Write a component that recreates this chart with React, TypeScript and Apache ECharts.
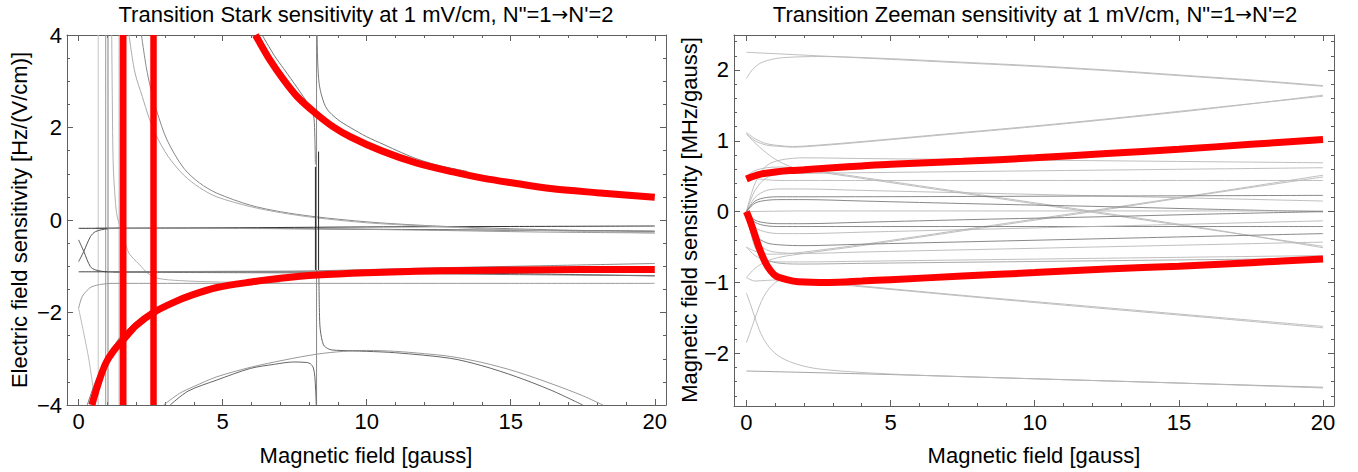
import React, { useEffect, useRef } from "react";
import * as echarts from "echarts";

// ---------- Stark panel (left) ----------
const starkMajorX = [0, 5, 10, 15, 20];
const starkMinorX = [1, 2, 3, 4, 6, 7, 8, 9, 11, 12, 13, 14, 16, 17, 18, 19];
const starkMajorY = [-4, -2, 0, 2, 4];
const starkMinorY = [-3.5, -3, -2.5, -1.5, -1, -0.5, 0.5, 1, 1.5, 2.5, 3, 3.5];

// highlighted transitions
const starkRedUpper = [[6.14, 4], [6.6, 3.5], [7.12, 3.03], [7.6, 2.66], [8.22, 2.31], [8.8, 2.03], [9.43, 1.8], [10.5, 1.5], [11.75, 1.23], [13, 1.04], [14.07, 0.9], [15.2, 0.79], [16.38, 0.68], [18, 0.59], [20, 0.49]];
const starkRedLower = [[0.46, -4], [0.7, -3.5], [0.94, -3.1], [1.2, -2.84], [1.55, -2.59], [2, -2.28], [2.6, -2.0], [3.3, -1.78], [3.95, -1.62], [4.8, -1.46], [6, -1.34], [7, -1.26], [8.28, -1.19], [10, -1.14], [11.75, -1.11], [13.5, -1.09], [15.2, -1.08], [17.5, -1.07], [20, -1.07]];
const starkRedPoleA = [[1.55, -4], [1.55, 4]];
const starkRedPoleB = [[2.6, -4], [2.6, 4]];

// remaining transitions
const starkPoleA = [[0.68, -4], [0.68, 4]];
const starkPoleB = [[0.94, -4], [0.94, 4]];
const starkPoleC = [[1.02, -4], [1.02, 4]];
const starkPoleD = [[1.41, -4], [1.41, 4]];
const starkPoleE = [[8.26, -4], [8.26, 4]];
const starkBlackA = [[8.22, 1.15], [8.22, -1.08]];
const starkBlackB = [[8.33, 1.48], [8.33, -1.08]];
const starkFall = [[1.15, 4], [1.17, 2.6], [1.2, 1.23], [1.27, 0.45], [1.34, 0.07], [1.46, -0.18], [1.6, -0.45], [1.75, -0.72], [2.09, -0.95], [2.4, -1.15], [2.74, -1.26], [3.5, -1.31], [4.8, -1.34], [7, -1.36]];
const starkHookUp = [[0, -1.91], [0.12, -1.66], [0.3, -1.52], [0.47, -1.44], [0.8, -1.39], [1.16, -1.37], [5, -1.37], [10, -1.37], [15, -1.37], [20, -1.37]];
const starkHookDown = [[0, -1.91], [0.18, -2.45], [0.36, -3.03], [0.53, -3.75], [0.59, -4]];
const starkRedShadow = [[0.3, -4], [0.55, -3.55], [0.82, -3.17], [1.1, -2.85], [1.46, -2.52], [2, -2.2], [2.6, -1.97], [3.2, -1.78]];
const starkCrossA = [[0, -0.43], [0.18, -0.68], [0.41, -1.01], [0.59, -1.08], [1, -1.12], [1.5, -1.12]];
const starkCrossB = [[0, -0.9], [0.18, -0.68], [0.41, -0.36], [0.59, -0.25], [1, -0.19], [1.5, -0.18]];
const starkLevelA = [[0, -0.18], [5, -0.17], [10, -0.15], [15, -0.14], [20, -0.13]];
const starkLevelB = [[0.6, -0.18], [5, -0.18], [10, -0.2], [15, -0.22], [20, -0.24]];
const starkLevelC = [[1, -0.18], [8, -0.19], [12, -0.22], [16, -0.26], [20, -0.28]];
const starkLevelD = [[0, -1.12], [5, -1.12], [10, -1.13], [15, -1.16], [20, -1.21]];
const starkLevelE = [[1, -1.12], [5, -1.11], [8, -1.1], [12, -1.04], [16, -0.99], [20, -0.94]];
const starkLevelF = [[1.2, -1.13], [6, -1.14], [10, -1.15], [15, -1.18], [20, -1.2]];
const starkHyperDark = [[2.18, 4], [2.35, 3.3], [2.5, 2.85], [2.7, 2.38], [3.07, 1.73], [3.65, 1.12], [4.2, 0.8], [4.8, 0.58], [5.96, 0.32], [7, 0.18], [8.22, 0.07], [10, -0.04], [11.75, -0.11], [14, -0.17], [17, -0.22], [20, -0.25]];
const starkHyperLight = [[1.75, 4], [1.95, 3.2], [2.21, 2.67], [2.45, 2.2], [2.7, 1.82], [3.1, 1.38], [3.65, 0.97], [4.2, 0.7], [4.8, 0.5], [5.96, 0.29], [7, 0.16], [8.22, 0.05], [10, -0.06], [12, -0.13], [15, -0.21], [20, -0.28]];
const starkUpperLeft = [[6.37, 4], [6.8, 3.55], [7.12, 3.27], [7.6, 2.85], [7.98, 2.5], [8.1, 2.36], [8.17, 2.2], [8.2, 1.8], [8.22, 1.2]];
const starkUpperRight = [[8.28, 4], [8.3, 3.4], [8.35, 2.95], [8.45, 2.66], [8.62, 2.4], [9, 2.17], [9.43, 2.0], [10, 1.8], [10.6, 1.63], [11.2, 1.46], [11.75, 1.32], [12.5, 1.18], [13.5, 1.05]];
const starkArchOuter = [[2.95, -4], [3.5, -3.75], [4, -3.6], [4.8, -3.39], [6, -3.18], [7.12, -3.03], [8.28, -2.9], [9.2, -2.84], [10, -2.82], [11, -2.84], [12, -2.89], [12.9, -2.95], [14, -3.08], [15.2, -3.28], [16.5, -3.56], [17.5, -3.8], [18.2, -4]];
const starkArchLeft = [[3.18, -4], [3.8, -3.7], [4.8, -3.46], [5.96, -3.21], [6.8, -3.12], [7.47, -3.07], [7.9, -3.08], [8.05, -3.11], [8.15, -3.2], [8.2, -3.39], [8.23, -3.7], [8.25, -4]];
const starkArchRight = [[8.34, -1.15], [8.36, -2.0], [8.39, -2.38], [8.5, -2.7], [8.65, -2.78], [8.79, -2.81], [9.5, -2.83], [10, -2.84], [11, -2.87], [12.9, -2.99], [14, -3.15], [15.2, -3.39], [16.4, -3.68], [17.5, -4]];

// ---------- Zeeman panel (right) ----------
const zeemanMajorX = [0, 5, 10, 15, 20];
const zeemanMinorX = [1, 2, 3, 4, 6, 7, 8, 9, 11, 12, 13, 14, 16, 17, 18, 19];
const zeemanMajorY = [-2, -1, 0, 1, 2];
const zeemanMinorY = [-2.6, -2.4, -2.2, -1.8, -1.6, -1.4, -1.2, -0.8, -0.6, -0.4, -0.2, 0.2, 0.4, 0.6, 0.8, 1.2, 1.4, 1.6, 1.8, 2.2, 2.4];

const zeemanRedUpper = [[0, 0.46], [0.25, 0.5], [0.5, 0.53], [1, 0.56], [1.5, 0.58], [2, 0.59], [3, 0.62], [4, 0.645], [5, 0.668], [7.5, 0.71], [10, 0.76], [12.5, 0.82], [15, 0.88], [17.5, 0.95], [20, 1.02]];
const zeemanRedLower = [[0, 0], [0.1, -0.1], [0.27, -0.3], [0.45, -0.52], [0.66, -0.72], [0.85, -0.84], [1.03, -0.91], [1.4, -0.96], [1.8, -0.99], [2.87, -1.0], [4, -0.98], [5, -0.96], [7.5, -0.91], [10, -0.86], [12.5, -0.81], [15, -0.77], [17.5, -0.72], [20, -0.67]];

const zeemanTopA = [[0, 2.25], [2.5, 2.2], [5, 2.15], [7.5, 2.1], [10, 2.05], [12.5, 1.99], [15, 1.92], [17.5, 1.85], [20, 1.77]];
const zeemanTopB = [[0, 1.88], [0.2, 2.0], [0.5, 2.1], [1, 2.16], [1.5, 2.18], [2.5, 2.19], [5, 2.16], [7.5, 2.11], [10, 2.06], [12.5, 2.0], [15, 1.93], [17.5, 1.86], [20, 1.78]];
const zeemanRiseA = [[0, 1.12], [0.3, 1.03], [0.7, 0.96], [1.2, 0.93], [1.6, 0.92], [2.5, 0.94], [4, 0.99], [7, 1.1], [10, 1.21], [13, 1.33], [16, 1.46], [20, 1.63]];
const zeemanRiseB = [[0, 1.1], [0.3, 1.0], [0.7, 0.94], [1.2, 0.92], [1.6, 0.91], [2.5, 0.93], [4, 0.98], [7, 1.09], [10, 1.2], [13, 1.32], [16, 1.45], [20, 1.645]];
const zeemanDownA = [[0, 1.1], [0.3, 0.97], [0.6, 0.86], [1, 0.74], [1.5, 0.64], [2, 0.59], [3, 0.53], [4, 0.47], [8, 0.23], [12, -0.01], [16, -0.25], [20, -0.49]];
const zeemanDownB = [[0, 0.5], [0.3, 0.58], [0.7, 0.62], [1.2, 0.63], [2, 0.6], [4, 0.485], [8, 0.245], [12, 0.005], [16, -0.24], [20, -0.51]];
const zeemanUpA = [[0, -0.93], [0.3, -0.8], [0.7, -0.7], [1.2, -0.64], [2, -0.59], [4, -0.48], [8, -0.24], [12, 0.0], [16, 0.25], [20, 0.49]];
const zeemanUpB = [[0, -0.5], [0.3, -0.56], [0.7, -0.6], [1.2, -0.6], [2, -0.57], [4, -0.465], [8, -0.225], [12, 0.015], [16, 0.26], [20, 0.515]];
const zeemanLowA = [[0, -1.85], [0.15, -1.68], [0.3, -1.5], [0.6, -1.2], [1, -1.0], [1.5, -0.95], [2.5, -0.99], [4, -1.05], [8, -1.2], [12, -1.34], [16, -1.48], [20, -1.62]];
const zeemanLowB = [[0, -0.93], [0.3, -0.98], [0.7, -0.97], [1.5, -0.96], [2.5, -1.0], [4, -1.06], [8, -1.21], [12, -1.355], [16, -1.495], [20, -1.64]];
const zeemanBottomA = [[0, -2.25], [5, -2.3], [10, -2.36], [15, -2.42], [20, -2.48]];
const zeemanBottomB = [[0, -1.15], [0.15, -1.32], [0.3, -1.5], [0.5, -1.72], [0.8, -1.92], [1.2, -2.06], [1.8, -2.16], [2.5, -2.22], [4, -2.27], [6, -2.31], [10, -2.36], [15, -2.42], [20, -2.49]];
const zeemanMid1 = [[0, 0], [0.3, 0.4], [0.7, 0.65], [1.2, 0.73], [2, 0.76], [4, 0.75], [12, 0.72], [20, 0.69]];
const zeemanMid2 = [[0, 0], [0.3, 0.3], [0.7, 0.48], [1.2, 0.53], [2, 0.54], [4, 0.55], [12, 0.585], [20, 0.62]];
const zeemanMid3 = [[0, 0.5], [0.3, 0.47], [0.7, 0.45], [1.2, 0.44], [2, 0.44], [12, 0.44], [20, 0.44]];
const zeemanMid4 = [[0, 0], [0.3, 0.2], [0.7, 0.3], [1.2, 0.32], [2, 0.32], [4, 0.3], [12, 0.225], [20, 0.15]];
const zeemanMid5 = [[0, 0], [0.3, 0.15], [0.7, 0.2], [1.2, 0.21], [2, 0.21], [12, 0.22], [20, 0.23]];
const zeemanMid6 = [[0, 0], [0.3, 0.12], [0.7, 0.16], [1.2, 0.17], [2, 0.17], [4, 0.15], [8, 0.11], [12, 0.075], [16, 0.035], [20, 0.0]];
const zeemanMid7 = [[0, 0], [2, 0.01], [20, 0.01]];
const zeemanMid8 = [[0, 0], [0.3, -0.12], [0.7, -0.16], [1.2, -0.17], [2, -0.17], [4, -0.15], [8, -0.11], [12, -0.075], [16, -0.035], [20, 0]];
const zeemanMid9 = [[0, 0], [0.3, -0.15], [0.7, -0.2], [1.2, -0.21], [2, -0.21], [20, -0.21]];
const zeemanMid10 = [[0, 0], [0.3, -0.22], [0.7, -0.29], [1.2, -0.31], [2, -0.31], [4, -0.29], [12, -0.21], [20, -0.13]];
const zeemanMid11 = [[0, 0], [0.3, -0.33], [0.7, -0.44], [1.2, -0.47], [2, -0.48], [4, -0.46], [12, -0.385], [20, -0.31]];
const zeemanMid12 = [[0, 0], [0.3, -0.4], [0.7, -0.54], [1.2, -0.58], [2, -0.59], [4, -0.57], [12, -0.5], [20, -0.43]];
const zeemanMid13 = [[0, -0.5], [0.3, -0.62], [0.7, -0.69], [1.2, -0.71], [2, -0.71], [4, -0.7], [12, -0.66], [20, -0.62]];
const zeemanMid14 = [[0, 0], [0.3, -0.5], [0.7, -0.68], [1.2, -0.73], [2, -0.74], [4, -0.73], [12, -0.695], [20, -0.66]];

const FONT = '"Liberation Sans", Arial, Helvetica, sans-serif';
const ARROW_FONT = '"DejaVu Sans", sans-serif';
const FRAME = "#606060";
const RED = "#ff0000";

const minusFmt = (v: number) => (v < 0 ? "\u2212" + Math.abs(v) : String(v));

function frameAxes(
  grid: number,
  min: number,
  max: number,
  major: number[],
  minor: number[],
  sides: [string, string]
) {
  const base = {
    gridIndex: grid,
    type: "value",
    min,
    max,
    splitLine: { show: false },
  };
  const tick = (vals: number[], len: number) => ({
    show: true,
    inside: true,
    length: len,
    customValues: vals,
    lineStyle: { color: FRAME, width: 1 },
  });
  return [
    {
      ...base,
      position: sides[0],
      axisLine: { show: true, onZero: false, lineStyle: { color: FRAME, width: 1 } },
      axisTick: tick(major, 6),
      axisLabel: {
        show: true,
        customValues: major,
        formatter: minusFmt,
        fontFamily: FONT,
        fontSize: 22,
        color: "#000",
        margin: 5,
      },
    },
    {
      ...base,
      position: sides[0],
      axisLine: { show: false, onZero: false },
      axisTick: tick(minor, 3),
      axisLabel: { show: false },
    },
    {
      ...base,
      position: sides[1],
      axisLine: { show: true, onZero: false, lineStyle: { color: FRAME, width: 1 } },
      axisTick: tick(major, 6),
      axisLabel: { show: false },
    },
    {
      ...base,
      position: sides[1],
      axisLine: { show: false, onZero: false },
      axisTick: tick(minor, 3),
      axisLabel: { show: false },
    },
  ];
}

function curve(data: number[][], panel: number, color: string, width: number, z = 2, smooth: number | boolean = 0.3) {
  return {
    type: "line",
    xAxisIndex: panel * 4,
    yAxisIndex: panel * 4,
    data,
    symbol: "none",
    showSymbol: false,
    smooth,
    silent: true,
    clip: true,
    z,
    lineStyle: { color, width, cap: "butt" },
  };
}

export default function App() {
  const ref = useRef<HTMLDivElement>(null);

  useEffect(() => {
    if (!ref.current) return;
    const chart = echarts.init(ref.current, undefined, { renderer: "svg" });

    const starkGray = [
      curve(starkPoleA, 0, "#c4c4c4", 1, 2, false),
      curve(starkPoleB, 0, "#9a9a9a", 1, 2, false),
      curve(starkPoleC, 0, "#808080", 1, 2, false),
      curve(starkPoleD, 0, "#9a9a9a", 1, 2, false),
      curve(starkPoleE, 0, "#888888", 1, 2, false),
      curve(starkBlackA, 0, "#222222", 1, 3, false),
      curve(starkBlackB, 0, "#222222", 1, 3, false),
      curve(starkFall, 0, "#b0b0b0", 1),
      curve(starkHookUp, 0, "#999999", 1),
      curve(starkHookDown, 0, "#bbbbbb", 1),
      curve(starkRedShadow, 0, "#777777", 1),
      curve(starkCrossA, 0, "#555555", 1),
      curve(starkCrossB, 0, "#555555", 1),
      curve(starkLevelA, 0, "#333333", 1),
      curve(starkLevelB, 0, "#555555", 1),
      curve(starkLevelC, 0, "#999999", 1),
      curve(starkLevelD, 0, "#444444", 1),
      curve(starkLevelE, 0, "#888888", 1),
      curve(starkLevelF, 0, "#777777", 1),
      curve(starkHyperDark, 0, "#888888", 1),
      curve(starkHyperLight, 0, "#aaaaaa", 1),
      curve(starkUpperLeft, 0, "#777777", 1),
      curve(starkUpperRight, 0, "#777777", 1),
      curve(starkArchOuter, 0, "#999999", 1),
      curve(starkArchLeft, 0, "#666666", 1),
      curve(starkArchRight, 0, "#666666", 1),
    ];
    const starkRed = [
      curve(starkRedPoleA, 0, RED, 6.5, 5, false),
      curve(starkRedPoleB, 0, RED, 6.5, 5, false),
      curve(starkRedUpper, 0, RED, 7, 5),
      curve(starkRedLower, 0, RED, 7, 5),
    ];

    const light = "#b8b8b8";
    const dark = "#7a7a7a";
    const zeemanGray = [
      curve(zeemanTopA, 1, light, 0.9),
      curve(zeemanTopB, 1, light, 0.9),
      curve(zeemanRiseA, 1, light, 0.9),
      curve(zeemanRiseB, 1, light, 0.9),
      curve(zeemanDownA, 1, light, 0.9),
      curve(zeemanDownB, 1, light, 0.9),
      curve(zeemanUpA, 1, light, 0.9),
      curve(zeemanUpB, 1, light, 0.9),
      curve(zeemanLowA, 1, light, 0.9),
      curve(zeemanLowB, 1, light, 0.9),
      curve(zeemanBottomA, 1, "#9a9a9a", 0.9),
      curve(zeemanBottomB, 1, light, 0.9),
      curve(zeemanMid1, 1, light, 0.9),
      curve(zeemanMid2, 1, light, 0.9),
      curve(zeemanMid3, 1, light, 0.9),
      curve(zeemanMid4, 1, light, 0.9),
      curve(zeemanMid5, 1, dark, 0.9),
      curve(zeemanMid6, 1, dark, 0.9),
      curve(zeemanMid7, 1, light, 0.9),
      curve(zeemanMid8, 1, dark, 0.9),
      curve(zeemanMid9, 1, dark, 0.9),
      curve(zeemanMid10, 1, light, 0.9),
      curve(zeemanMid11, 1, dark, 0.9),
      curve(zeemanMid12, 1, light, 0.9),
      curve(zeemanMid13, 1, light, 0.9),
      curve(zeemanMid14, 1, "#a0a0a0", 0.9),
    ];
    const zeemanRed = [
      curve(zeemanRedUpper, 1, RED, 7, 5),
      curve(zeemanRedLower, 1, RED, 7, 5),
    ];

    // titles use rich text so the transition arrow comes from a font with a full-size glyph
    const title = (kind: string, x: number) => ({
      type: "text",
      x,
      y: 14,
      style: {
        text: `{t|Transition ${kind} sensitivity at 1 mV/cm, N"=1}{a|\u2192}{t|N'=2}`,
        align: "center",
        verticalAlign: "middle",
        rich: {
          t: { fontFamily: FONT, fontSize: 22, fill: "#000" },
          a: { fontFamily: ARROW_FONT, fontSize: 20, fill: "#000" },
        },
      },
    });
    const xName = (x: number) => ({
      type: "text",
      x,
      y: 455,
      style: { text: "Magnetic field [gauss]", fontFamily: FONT, fontSize: 22, fill: "#000", align: "center", verticalAlign: "middle" },
    });
    const yName = (text: string, x: number) => ({
      type: "text",
      x,
      y: 220,
      rotation: Math.PI / 2,
      style: { text, fontFamily: FONT, fontSize: 22, fill: "#000", align: "center", verticalAlign: "middle" },
    });

    chart.setOption({
      animation: false,
      backgroundColor: "#ffffff",
      grid: [
        { left: 67, top: 35, width: 599, height: 370 },
        { left: 734, top: 35, width: 600, height: 371 },
      ],
      xAxis: [
        ...frameAxes(0, -0.403, 20.39, starkMajorX, starkMinorX, ["bottom", "top"]),
        ...frameAxes(1, -0.43, 20.38, zeemanMajorX, zeemanMinorX, ["bottom", "top"]),
      ],
      yAxis: [
        ...frameAxes(0, -4, 4, starkMajorY, starkMinorY, ["left", "right"]),
        ...frameAxes(1, -2.744, 2.494, zeemanMajorY, zeemanMinorY, ["left", "right"]),
      ],
      series: [...starkGray, ...starkRed, ...zeemanGray, ...zeemanRed],
      graphic: [
        title("Stark", 366),
        title("Zeeman", 1035),
        xName(366),
        xName(1034),
        yName("Electric field sensitivity [Hz/(V/cm)]", 19),
        yName("Magnetic field sensitivity [MHz/gauss]", 689),
      ],
    });

    return () => chart.dispose();
  }, []);

  return (
    <div
      ref={ref}
      style={{ position: "fixed", left: 0, top: 0, width: 1358, height: 472, background: "#fff" }}
    />
  );
}
